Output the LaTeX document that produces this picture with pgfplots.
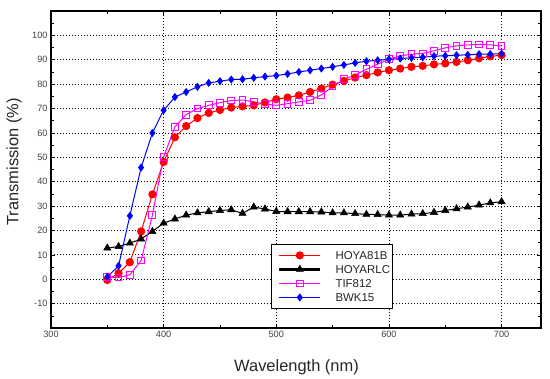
\documentclass[border=0pt]{standalone}
\usepackage{pgfplots}
\pgfplotsset{compat=1.18}
\usepackage{fontspec}
\setmainfont{Liberation Sans}
\definecolor{cred}{RGB}{255,0,0}
\definecolor{cpink}{RGB}{255,0,255}
\definecolor{cblue}{RGB}{0,0,255}
\begin{document}
\begin{tikzpicture}
\begin{axis}[
  scale only axis, width=490bp, height=317bp,
  xmin=300, xmax=735, ymin=-20, ymax=110,
  xtick={300,400,...,700}, minor xtick={350,450,550,650},
  ytick={-10,0,...,100}, minor ytick={-15,-5,...,105},
  tick pos=both, tick align=inside,
  major tick length=4bp, minor tick length=3bp,
  every tick/.style={black, line width=0.6bp},
  axis line style={line width=1.6bp},
  grid=major,
  major grid style={black, line width=0.8bp, dash pattern=on 1bp off 2bp},
  ticklabel style={font=\fontsize{9.2}{11}\selectfont, text=black!75},
  /pgf/number format/assume math mode=true,
  xlabel={Wavelength (nm)}, ylabel={Transmission (\%)},
  label style={font=\fontsize{16.5}{19}\selectfont, text=black!85},
  xlabel style={at={(rel axis cs:0.501,-0.1246)}, anchor=center},
  ylabel style={at={(rel axis cs:-0.0755,0.524)}, anchor=center},
  legend cell align=left,
  legend style={at={(rel axis cs:0.449,0.265)}, anchor=north west, draw=black, line width=0.8bp, fill=white,
    font=\fontsize{11.5}{13}\selectfont, inner xsep=1bp, inner ysep=4bp, row sep=0pt,
    nodes={inner xsep=1bp, inner ysep=2bp, text height=9bp, text depth=1bp, text=black!85}},
  legend image code/.code={\path (-5.7bp,0bp) (54bp,0bp);\draw[mark repeat=2,mark phase=2] plot coordinates {(0bp,0bp) (20.5bp,0bp) (41bp,0bp)};},
]
\coordinate (sw) at (rel axis cs:0,0);
\coordinate (ne) at (rel axis cs:1,1);
\addplot[cred, line width=1bp, mark=*, mark size=3.6, mark options={fill=cred, draw=cred}] coordinates {
(350,-0.3) (360,2.5) (370,7) (380,19.6) (390,34.8) (400,48.1) (410,58.2) (420,62.8) (430,66.1) (440,68.2)
(450,69.4) (460,70.4) (470,70.9) (480,71.3) (490,72.5) (500,73.8) (510,74.5) (520,75.4) (530,76.8) (540,78.2)
(550,79.8) (560,81.3) (570,82.7) (580,83.7) (590,84.8) (600,85.7) (610,86.4) (620,87.1) (630,87.5) (640,88.1)
(650,88.5) (660,89.1) (670,89.8) (680,90.6) (690,91.4) (700,91.9)};
\addlegendentry{HOYA81B}
\addplot[black, line width=1bp, mark=triangle*, mark size=4.2, mark options={fill=black, line width=0.5bp}, legend image post style={line width=2.4bp}] coordinates {
(350,12.8) (360,13.4) (370,14.8) (380,16.5) (390,19.6) (400,23) (410,24.7) (420,26.3) (430,27.2) (440,27.7)
(450,28.2) (460,28.5) (470,27) (480,29.6) (490,28.8) (500,27.8) (510,27.7) (520,27.7) (530,27.7) (540,27.6)
(550,27.2) (560,27.2) (570,26.9) (580,26.6) (590,26.5) (600,26.3) (610,26.3) (620,26.7) (630,26.9) (640,27.4)
(650,28.2) (660,28.9) (670,29.6) (680,30.4) (690,31.3) (700,31.8)};
\addlegendentry{HOYARLC}
\addplot[cpink, line width=1bp, mark=square, mark size=3.4, mark options={fill=white, draw=cpink}] coordinates {
(350,0.8) (360,0.7) (370,1.8) (380,7.7) (390,26.2) (400,50.2) (410,62.5) (420,67.5) (430,70) (440,71.3)
(450,72.4) (460,73.3) (470,73.5) (480,72.7) (490,71.9) (500,71.3) (510,72) (520,72.7) (530,73.4) (540,75.6)
(550,79) (560,82) (570,83.8) (580,86.1) (590,88.2) (600,90.2) (610,91.6) (620,92.3) (630,92.6) (640,93.7)
(650,94.9) (660,95.7) (670,96.1) (680,96.3) (690,96.1) (700,95.6)};
\addlegendentry{TIF812}
\addplot[cblue, line width=1bp, mark=diamond*, mark size=3.3, mark options={fill=cblue, draw=cblue}] coordinates {
(350,1) (360,5.5) (370,26) (380,45.8) (390,60) (400,69.3) (410,74.7) (420,76.8) (430,78.9) (440,80.5)
(450,81.2) (460,81.9) (470,82) (480,82.6) (490,83.1) (500,83.5) (510,84.2) (520,85) (530,85.7) (540,86.4)
(550,87.1) (560,87.9) (570,88.7) (580,89.4) (590,89.8) (600,90.2) (610,90.5) (620,90.8) (630,91) (640,91.5)
(650,91.6) (660,91.9) (670,92) (680,92.3) (690,92.3) (700,92.5)};
\addlegendentry{BWK15}
\end{axis}
\pgfresetboundingbox
\path[use as bounding box] ([shift={(-51bp,-51bp)}]sw) rectangle ([shift={(9bp,11bp)}]ne);
\end{tikzpicture}
\end{document}
